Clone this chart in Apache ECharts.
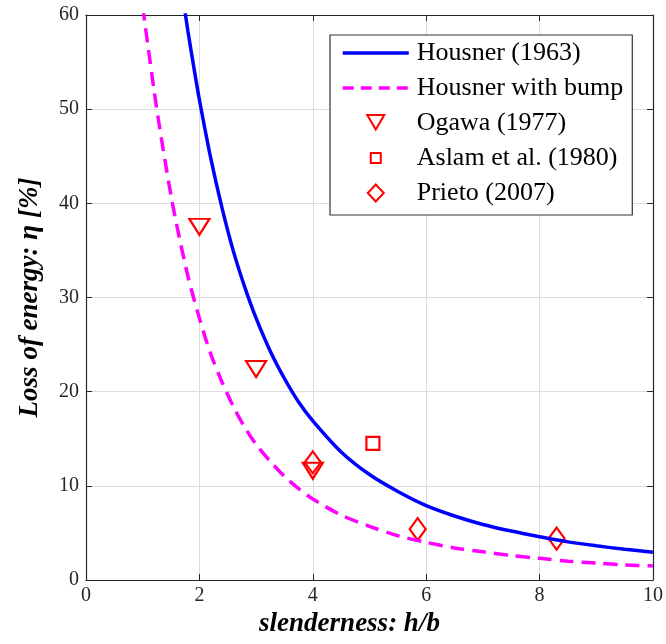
<!DOCTYPE html>
<html>
<head>
<meta charset="utf-8">
<script src="https://cdn.jsdelivr.net/npm/echarts@6/dist/echarts.min.js"></script>
<style>
html,body{margin:0;padding:0;background:#fff;}
#c{width:666px;height:644px;}
</style>
</head>
<body>
<div id="c"></div>
<script>
// Housner (1963) curve
const housnerX = [1.75, 1.8, 1.9, 2, 2.2, 2.4, 2.6, 2.8, 3, 3.25, 3.5, 3.75, 4, 4.5, 5, 5.5, 6, 6.5, 7, 7.5, 8, 8.5, 9, 9.5, 10];
const housnerY = [60.2, 58.2, 54.5, 51.0, 44.8, 39.5, 34.9, 31.1, 27.8, 24.3, 21.4, 18.9, 16.9, 13.6, 11.2, 9.4, 7.9, 6.8, 5.9, 5.2, 4.6, 4.05, 3.63, 3.26, 2.95];
// Housner with bump curve
const bumpX = [1.0, 1.05, 1.1, 1.2, 1.3, 1.4, 1.5, 1.6, 1.8, 2, 2.2, 2.4, 2.6, 2.8, 3, 3.25, 3.5, 3.75, 4, 4.5, 5, 5.5, 6, 6.5, 7, 7.5, 8, 8.5, 9, 9.5, 10];
const bumpY = [60.9, 58.6, 56.4, 52.0, 48.0, 44.3, 40.8, 37.7, 32.2, 27.8, 24.0, 21.0, 18.4, 16.2, 14.4, 12.6, 11.0, 9.7, 8.6, 6.9, 5.7, 4.7, 4.0, 3.4, 3.0, 2.6, 2.3, 2.0, 1.8, 1.6, 1.5];
// Experimental points
const ogawaX = [2, 3, 4];
const ogawaY = [37.5, 22.4, 11.6];
const aslamX = [5.06];
const aslamY = [14.5];
const prietoX = [4, 5.85, 8.3];
const prietoY = [12.5, 5.4, 4.4];
// Axis ticks
const xTicks = [0, 2, 4, 6, 8, 10];
const yTicks = [0, 10, 20, 30, 40, 50, 60];

const zip = (a, b) => a.map((v, i) => [v, b[i]]);
const serif = '"Liberation Serif", "Times New Roman", serif';
const axisCol = '#262626';
const red = '#ff0000';
const triDown = 'path://M0,0 L10,0 L5,8.5 Z';
// legend icons in a 66x20 frame (corner points keep the frame size)
const legTri = 'path://M0,0 Z M66,20 Z M24.5,2 L41.5,2 L33,16.5 Z';
const legRect = 'path://M0,0 Z M66,20 Z M28,5 L38,5 L38,15 L28,15 Z';
const legDiamond = 'path://M0,0 Z M66,20 Z M33,1.5 L41,10 L33,18.5 L25,10 Z';

const chart = echarts.init(document.getElementById('c'));
const baseX = {
  type: 'value', min: xTicks[0], max: xTicks[xTicks.length - 1], interval: xTicks[1] - xTicks[0],
};
const baseY = {
  type: 'value', min: yTicks[0], max: yTicks[yTicks.length - 1], interval: yTicks[1] - yTicks[0],
};
const titleStyle = { fontFamily: serif, fontSize: 27, fontWeight: 'bold', fontStyle: 'italic', color: '#000' };
const markerStyle = { color: 'rgba(255,255,255,0)', borderColor: red, borderWidth: 2.2, opacity: 1 };
chart.setOption({
  animation: false,
  backgroundColor: '#fff',
  grid: { left: 86, right: 13, top: 15, bottom: 64, containLabel: false },
  xAxis: [
    Object.assign({}, baseX, {
      position: 'bottom',
      name: 'slenderness: h/b', nameLocation: 'middle', nameGap: 28,
      nameTextStyle: Object.assign({}, titleStyle, { padding: [0, 40, 0, 0] }),
      axisLine: { onZero: false, lineStyle: { color: axisCol, width: 1.2 } },
      axisTick: { inside: true, length: 6, lineStyle: { color: axisCol } },
      axisLabel: { fontFamily: serif, fontSize: 20, color: axisCol, margin: 6 },
      splitLine: { show: true, lineStyle: { color: '#dcdcdc', width: 1 } },
    }),
    Object.assign({}, baseX, {
      position: 'top',
      axisLine: { onZero: false, lineStyle: { color: axisCol, width: 1.2 } },
      axisTick: { inside: true, length: 6, lineStyle: { color: axisCol } },
      axisLabel: { show: false },
      splitLine: { show: false },
    }),
  ],
  yAxis: [
    Object.assign({}, baseY, {
      position: 'left',
      name: 'Loss of energy: η [%]', nameLocation: 'middle', nameGap: 42,
      nameTextStyle: titleStyle,
      axisLine: { onZero: false, lineStyle: { color: axisCol, width: 1.2 } },
      axisTick: { inside: true, length: 6, lineStyle: { color: axisCol } },
      axisLabel: { fontFamily: serif, fontSize: 20, color: axisCol, margin: 7 },
      splitLine: { show: true, lineStyle: { color: '#dcdcdc', width: 1 } },
    }),
    Object.assign({}, baseY, {
      position: 'right',
      axisLine: { onZero: false, lineStyle: { color: axisCol, width: 1.2 } },
      axisTick: { inside: true, length: 6, lineStyle: { color: axisCol } },
      axisLabel: { show: false },
      splitLine: { show: false },
    }),
  ],
  legend: {
    orient: 'vertical',
    left: 330, top: 35,
    backgroundColor: '#fff',
    borderColor: '#333', borderWidth: 1.2, borderRadius: 0,
    padding: [5, 9, 9, 11],
    itemWidth: 66, itemHeight: 20, itemGap: 9,
    textStyle: { fontFamily: serif, fontSize: 26, lineHeight: 26, color: '#000', padding: [0, 0, 0, 3] },
    data: [
      { name: 'Housner (1963)', itemStyle: { opacity: 0 }, lineStyle: { width: 3.5 } },
      { name: 'Housner with bump', itemStyle: { opacity: 0 }, lineStyle: { width: 3.5, type: [11, 7] } },
      { name: 'Ogawa (1977)', icon: legTri, itemStyle: { opacity: 1 } },
      { name: 'Aslam et al. (1980)', icon: legRect, itemStyle: { opacity: 1 } },
      { name: 'Prieto (2007)', icon: legDiamond, itemStyle: { opacity: 1 } },
    ],
  },
  series: [
    {
      name: 'Housner (1963)', type: 'line', data: zip(housnerX, housnerY),
      smooth: 0.3, symbol: 'none', clip: true,
      lineStyle: { color: '#0000ff', width: 3.5 }, itemStyle: { color: '#0000ff' },
    },
    {
      name: 'Housner with bump', type: 'line', data: zip(bumpX, bumpY),
      smooth: 0.3, symbol: 'none', clip: true,
      lineStyle: { color: '#ff00ff', width: 3.5, type: [14, 8] }, itemStyle: { color: '#ff00ff' },
    },
    {
      name: 'Ogawa (1977)', type: 'scatter', data: zip(ogawaX, ogawaY),
      symbol: triDown, symbolSize: [20, 16], itemStyle: markerStyle,
    },
    {
      name: 'Aslam et al. (1980)', type: 'scatter', data: zip(aslamX, aslamY),
      symbol: 'rect', symbolSize: [13, 13], itemStyle: markerStyle,
    },
    {
      name: 'Prieto (2007)', type: 'scatter', data: zip(prietoX, prietoY),
      symbol: 'diamond', symbolSize: [16, 22], itemStyle: markerStyle,
    },
  ],
});
</script>
</body>
</html>
